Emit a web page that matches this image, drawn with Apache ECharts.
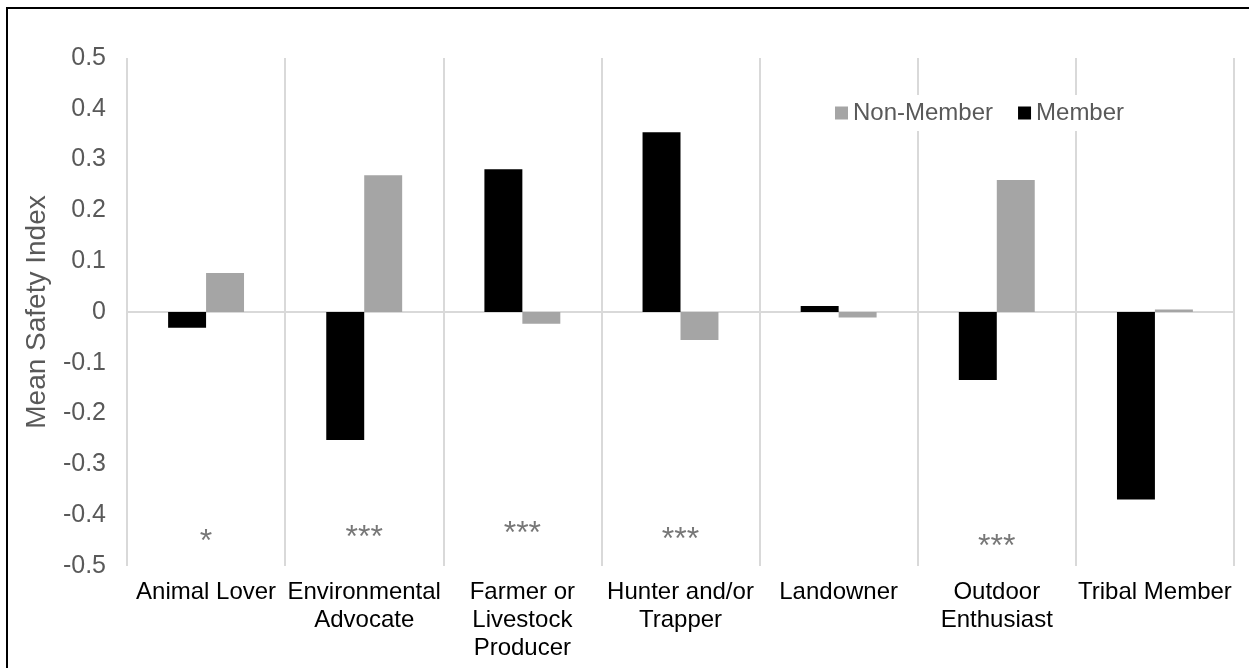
<!DOCTYPE html>
<html>
<head>
<meta charset="utf-8">
<script src="https://cdn.jsdelivr.net/npm/echarts@6/dist/echarts.min.js"></script>
<style>
html,body{margin:0;padding:0;background:#fff;}
#chart{width:1249px;height:668px;}
</style>
</head>
<body>
<div id="chart"></div>
<script>
const categories = ['Animal Lover', 'Environmental\nAdvocate', 'Farmer or\nLivestock\nProducer', 'Hunter and/or\nTrapper', 'Landowner', 'Outdoor\nEnthusiast', 'Tribal Member'];
const memberValues = [-0.031, -0.252, 0.281, 0.354, 0.012, -0.134, -0.369];
const nonMemberValues = [0.077, 0.269, -0.023, -0.055, -0.011, 0.26, 0.005];
const sigLabels = ['*', '***', '***', '***', '', '***', ''];
const sigY = [-0.443, -0.435, -0.427, -0.439, null, -0.453, null];
const yTicks = { min: -0.5, max: 0.5, interval: 0.1 };

const FONT = '"Liberation Sans", Arial, sans-serif';
const chart = echarts.init(document.getElementById('chart'), null, { renderer: 'canvas' });

const sigData = categories.map((c, i) => sigY[i] === null ? null : { value: [i, sigY[i]], label: { formatter: sigLabels[i] } });

chart.setOption({
  backgroundColor: '#fff',
  animation: false,
  graphic: [{
    type: 'rect', shape: { x: 7, y: 8, width: 1300, height: 700 },
    style: { fill: 'none', stroke: '#000', lineWidth: 2 }, silent: true, z: 100
  }],
  grid: { left: 127, right: 15, top: 58, bottom: 102, containLabel: false },
  legend: {
    data: ['Non-Member', 'Member'],
    left: 829, top: 95,
    itemWidth: 13, itemHeight: 13, itemGap: 25,
    icon: 'rect',
    backgroundColor: '#fff',
    padding: [6, 6],
    textStyle: { fontFamily: FONT, fontSize: 24, color: '#595959', padding: [0, 0, 0, 0] }
  },
  xAxis: {
    type: 'category',
    data: categories,
    axisLine: { show: false },
    axisTick: { show: false },
    splitLine: { show: true, interval: 0, lineStyle: { color: '#d9d9d9', width: 2 } },
    axisLabel: { interval: 0, fontFamily: FONT, fontSize: 24, color: '#000', lineHeight: 28, margin: 12, verticalAlign: 'top' }
  },
  yAxis: {
    type: 'value',
    min: yTicks.min, max: yTicks.max, interval: yTicks.interval,
    name: 'Mean Safety Index',
    nameLocation: 'middle',
    nameGap: 76,
    nameTextStyle: { fontFamily: FONT, fontSize: 28, color: '#595959' },
    axisLine: { show: false },
    axisTick: { show: false },
    splitLine: { show: false },
    axisLabel: {
      fontFamily: FONT, fontSize: 25, color: '#595959', margin: 21,
      formatter: v => { const r = Math.round(v * 10) / 10; return r === 0 ? '0' : String(r); }
    }
  },
  series: [
    {
      name: 'Member', type: 'bar', data: memberValues,
      barGap: '0%', barCategoryGap: '52%',
      itemStyle: { color: '#000' },
      markLine: {
        silent: true, symbol: 'none', label: { show: false },
        lineStyle: { color: '#d9d9d9', width: 2, type: 'solid' },
        data: [{ yAxis: 0 }], z: 0
      }
    },
    {
      name: 'Non-Member', type: 'bar', data: nonMemberValues,
      itemStyle: { color: '#a5a5a5' }
    },
    {
      name: 'sig', type: 'scatter', data: sigData,
      symbolSize: 0,
      label: { show: true, position: 'inside', offset: [0, 5], fontFamily: FONT, fontSize: 32, color: '#555555' },
      tooltip: { show: false }
    }
  ]
});
</script>
</body>
</html>
